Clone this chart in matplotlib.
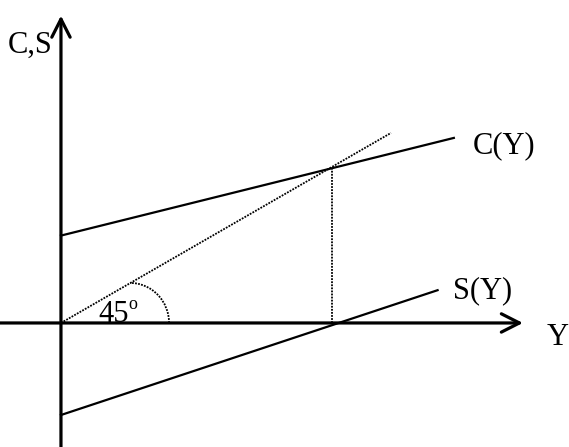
import matplotlib
matplotlib.use('Agg')
import matplotlib.pyplot as plt
from matplotlib.patches import Arc

# consumption / saving diagram
y_cons = [0.0, 14.5]
c_vals = [5.6, 11.86]
y_45 = [0.0, 12.18]
v_45 = [0.0, 12.18]
y_sav = [0.0, 13.9]
s_vals = [-5.9, 2.1]
y_eq = 10.0
c_eq = 10.0

x_axis = [-2.3, 17.05]
v_axis = [-8.2, 19.7]

plt.rcParams['font.family'] = ['Liberation Serif', 'DejaVu Serif']

fig = plt.figure(figsize=(5.69, 4.47), dpi=100, facecolor='w')
ax = fig.add_axes([0, 0, 1, 1])
ax.set_xlim(-2.25, 18.75)
ax.set_ylim(-7.95, 20.7)
ax.axis('off')

arrow = dict(arrowstyle='->, head_length=0.65, head_width=0.33', lw=2.3,
             color='k', mutation_scale=20, shrinkA=0, shrinkB=0)
ax.annotate('', xy=(x_axis[1], 0), xytext=(x_axis[0], 0), arrowprops=arrow)
ax.annotate('', xy=(0, v_axis[1]), xytext=(0, v_axis[0]), arrowprops=arrow)

dots = (0, (1, 0.7))
ax.plot(y_cons, c_vals, 'k-', lw=1.6)
ax.plot(y_sav, s_vals, 'k-', lw=1.6)
ax.plot(y_45, v_45, color='k', ls=dots, lw=1.3)
ax.plot([y_eq, y_eq], [0, c_eq], color='k', ls=dots, lw=1.3)

ax.add_patch(Arc((2.55, 0), 2.88, 5.13, theta1=0, theta2=90,
                 color='k', lw=1.3, ls=dots))

fs = 22
ax.text(-1.96, 17.3, 'C,S', fontsize=fs, va='baseline')
ax.text(15.2, 10.9, 'C(Y)', fontsize=fs, va='baseline')
ax.text(14.46, 1.6, 'S(Y)', fontsize=fs, va='baseline')
ax.text(17.93, -1.41, 'Y', fontsize=fs, va='baseline')
ax.text(1.37, 0.05, '45', fontsize=fs, va='baseline')
ax.text(2.5, 0.9, 'o', fontsize=13, va='baseline')

plt.savefig('out.png', dpi=100)
